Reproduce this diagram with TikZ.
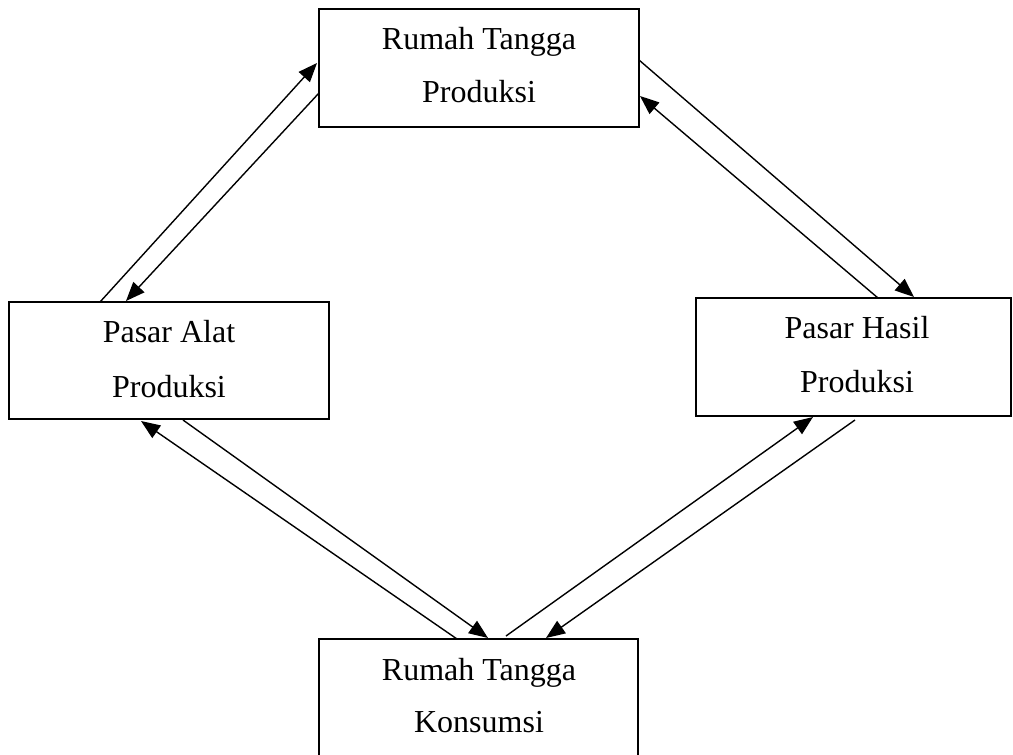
\documentclass[tikz,border=0pt]{standalone}
\usepackage{fontspec}
\setmainfont{Liberation Serif}
\usetikzlibrary{calc,arrows.meta}
\begin{document}
\begin{tikzpicture}[x=1pt,y=-1pt,
  box/.style={draw=black,line width=1.8pt,minimum width=#1,inner sep=0pt,outer sep=0pt},
  lbl/.style={anchor=base,inner sep=0pt,font=\fontsize{32}{54}\selectfont},
  flow/.style={line width=1.4pt,-{Triangle[length=19pt,width=15pt]}}]
\clip (0,0) rectangle (1013,755);
\fill[white] (0,0) rectangle (1013,755);
% boxes
\node[box=320pt,minimum height=118pt] (tp) at (479,68) {};
\node[box=320pt,minimum height=117pt] (lp) at (169,360.5) {};
\node[box=315pt,minimum height=118pt] (rp) at (853.5,357) {};
\node[box=319pt,minimum height=120pt] (bp) at (478.5,699) {};
% labels
\node[lbl] (tp1) at (479,49) {Rumah Tangga};
\node[lbl] (tp2) at (479,102) {Produksi};
\node[lbl] (lp1) at (169,342) {Pasar Alat};
\node[lbl] (lp2) at (169,397) {Produksi};
\node[lbl] (rp1) at (857,338) {Pasar Hasil};
\node[lbl] (rp2) at (857,392) {Produksi};
\node[lbl] (bp1) at (479,680) {Rumah Tangga};
\node[lbl] (bp2) at (479,732) {Konsumsi};
% connectors
\draw[flow] ($(lp.north west)+(91,0)$) -- ($(tp.north west)+(-2,54)$);
\draw[flow] ($(tp.north west)+(0,84)$) -- ($(lp.north west)+(117,-1)$);
\draw[flow] ($(tp.north east)+(0,51)$) -- ($(rp.north west)+(218,-1)$);
\draw[flow] ($(rp.north west)+(182,0)$) -- ($(tp.north east)+(1,87)$);
\draw[flow] ($(lp.south west)+(174,1)$) -- ($(bp.north west)+(169,-1)$);
\draw[flow] ($(bp.north west)+(138,0)$) -- ($(lp.south west)+(132,2)$);
\draw[flow] ($(bp.north west)+(187,-3)$) -- ($(rp.south west)+(117,1)$);
\draw[flow] ($(rp.south west)+(159,4)$) -- ($(bp.north west)+(227,-1)$);
\end{tikzpicture}
\end{document}
